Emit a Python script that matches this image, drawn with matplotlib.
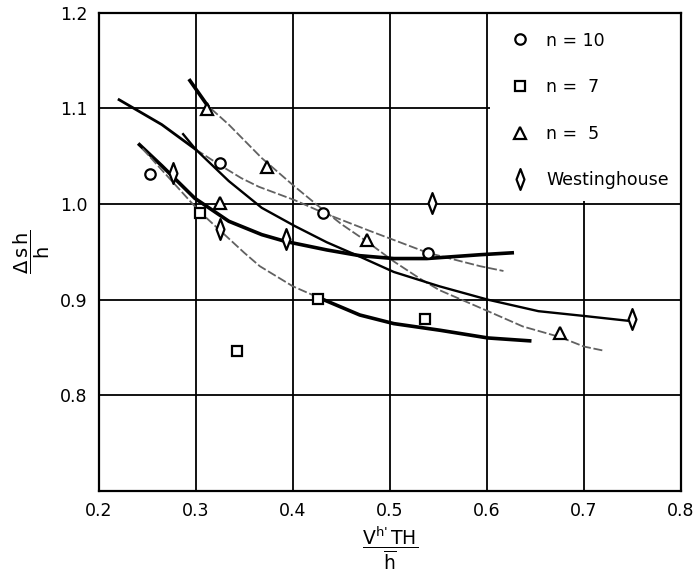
import matplotlib
matplotlib.use("Agg")
import matplotlib.pyplot as plt
from matplotlib.lines import Line2D
from matplotlib.patches import Rectangle
from matplotlib.path import Path

plt.rcParams['font.family'] = ['DejaVu Sans']
plt.rcParams['mathtext.default'] = 'regular'

# ---- measured points ----
n10_x = [0.253, 0.325, 0.431, 0.539]
n10_y = [1.031, 1.043, 0.991, 0.949]
n7_x = [0.304, 0.343, 0.426, 0.536]
n7_y = [0.991, 0.846, 0.901, 0.880]
n5_x = [0.312, 0.325, 0.373, 0.476, 0.675]
n5_y = [1.099, 1.001, 1.039, 0.962, 0.865]
west_x = [0.277, 0.325, 0.393, 0.543, 0.749]
west_y = [1.032, 0.974, 0.963, 1.001, 0.880]

# ---- hand-drawn fitted curves ----
fit_n5_x = [0.294, 0.312, 0.334, 0.368, 0.401, 0.425, 0.450, 0.476, 0.504, 0.531,
            0.551, 0.601, 0.637, 0.675, 0.700, 0.719]
fit_n5_y = [1.129, 1.103, 1.083, 1.048, 1.019, 0.999, 0.979, 0.961, 0.940, 0.922,
            0.910, 0.888, 0.872, 0.861, 0.851, 0.847]
fit_n10_x = [0.221, 0.265, 0.300, 0.326, 0.347, 0.365, 0.402, 0.431, 0.479, 0.539,
             0.593, 0.617]
fit_n10_y = [1.109, 1.083, 1.057, 1.040, 1.027, 1.018, 1.004, 0.991, 0.972, 0.949,
             0.935, 0.930]
fit_long_x = [0.287, 0.300, 0.334, 0.368, 0.402, 0.435, 0.469, 0.504, 0.551, 0.601,
              0.653, 0.700, 0.745]
fit_long_y = [1.073, 1.057, 1.024, 0.996, 0.977, 0.960, 0.945, 0.929, 0.914, 0.900,
              0.888, 0.883, 0.878]
fit_west_x = [0.242, 0.265, 0.299, 0.334, 0.368, 0.392, 0.435, 0.469, 0.504, 0.538,
              0.593, 0.626]
fit_west_y = [1.062, 1.040, 1.006, 0.982, 0.968, 0.961, 0.952, 0.946, 0.943, 0.943,
              0.947, 0.949]
fit_n7_x = [0.245, 0.270, 0.304, 0.350, 0.366, 0.400, 0.427, 0.469, 0.504, 0.552,
            0.601, 0.644]
fit_n7_y = [1.058, 1.030, 0.992, 0.949, 0.935, 0.914, 0.902, 0.884, 0.875, 0.868,
            0.860, 0.857]

x_ticks = [0.2, 0.3, 0.4, 0.5, 0.6, 0.7, 0.8]
x_ticklabels = ['0.2', '0.3', '0.4', '0.5', '0.6', '0.7', '0.8']
y_ticks = [0.8, 0.9, 1.0, 1.1, 1.2]
y_ticklabels = ['0.8', '0.9', '1.0', '1.1', '1.2']
labels = ['n = 10', 'n =  7', 'n =  5', 'Westinghouse']

fig = plt.figure(figsize=(6.95, 5.75), dpi=100)
ax = fig.add_axes([0.142, 0.146, 0.838, 0.832])
ax.set_xlim(0.2, 0.8)
ax.set_ylim(0.7, 1.2)
ax.set_xticks(x_ticks)
ax.set_xticklabels(x_ticklabels)
ax.set_yticks(y_ticks)
ax.set_yticklabels(y_ticklabels)
ax.tick_params(length=0, pad=8, labelsize=12.5)
ax.grid(True, color='black', lw=1.3)
ax.set_axisbelow(True)
for s in ax.spines.values():
    s.set_linewidth(1.6)

# white legend area covering the grid
ax.add_patch(Rectangle((0.603, 1.003), 0.197, 0.197, facecolor='white',
                       edgecolor='none', zorder=1))

gray = '0.38'
dash = (0, (5, 1.5))
# n = 5 curve
ax.plot(fit_n5_x, fit_n5_y, color=gray, lw=1.3, ls=dash, zorder=2)
ax.plot(fit_n5_x[:2], fit_n5_y[:2], color='black', lw=2.6, zorder=2)
# n = 10 curve
ax.plot(fit_n10_x[:3], fit_n10_y[:3], color='black', lw=2.0, zorder=2)
ax.plot(fit_n10_x[2:], fit_n10_y[2:], color=gray, lw=1.3, ls=dash, zorder=2)
# long solid curve
ax.plot(fit_long_x, fit_long_y, color='black', lw=1.7, zorder=2)
# Westinghouse curve
ax.plot(fit_west_x, fit_west_y, color='black', lw=2.6, zorder=2)
# n = 7 curve
ax.plot(fit_n7_x[:7], fit_n7_y[:7], color=gray, lw=1.3, ls=dash, zorder=2)
ax.plot(fit_n7_x[6:], fit_n7_y[6:], color='black', lw=2.6, zorder=2)

diamond = Path([(0, 1), (0.38, 0), (0, -1), (-0.38, 0), (0, 1)],
               [Path.MOVETO, Path.LINETO, Path.LINETO, Path.LINETO, Path.CLOSEPOLY])

mk = dict(ls='none', mfc='white', mec='black', mew=1.6, zorder=3)
ax.plot(n10_x, n10_y, marker='o', ms=7.5, **mk)
ax.plot(n7_x, n7_y, marker='s', ms=7, **mk)
ax.plot(n5_x, n5_y, marker='^', ms=8.5, **mk)
ax.plot(west_x, west_y, marker=diamond, ms=15, **mk)

handles = [
    Line2D([], [], marker='o', ms=7.5, **mk),
    Line2D([], [], marker='s', ms=7, **mk),
    Line2D([], [], marker='^', ms=8.5, **mk),
    Line2D([], [], marker=diamond, ms=15, **mk),
]
leg = ax.legend(handles, labels, loc='upper left', bbox_to_anchor=(0.697, 0.975),
                frameon=False, fontsize=12.5, handlelength=1.0, handletextpad=1.0,
                labelspacing=1.65, borderaxespad=0)

ax.set_ylabel(r'$\dfrac{\Delta\,s\,h}{h}$', fontsize=14, labelpad=6)
ax.set_xlabel(r"$\dfrac{V^{\text{h'}}\,TH}{\overline{h}}$", fontsize=13.5, labelpad=3)

fig.savefig('out.png', dpi=100)
